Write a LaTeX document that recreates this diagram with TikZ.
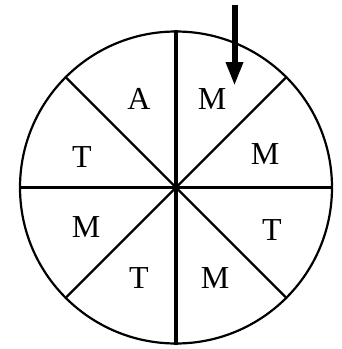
\documentclass[tikz,border=0pt]{standalone}
\usepackage{fontspec}
\setmainfont{Liberation Serif}
\usetikzlibrary{arrows.meta}
\begin{document}
\begin{tikzpicture}[x=1pt,y=-1pt,
  rim/.style={line width=2.2pt},
  axis/.style={line width=3.4pt},
  diag/.style={line width=2.3pt},
  lbl/.style={font=\fontsize{32}{32}\selectfont, inner sep=0pt},
  pointer/.style={line width=6pt, -{Triangle[length=24pt,width=16pt]}}]
\useasboundingbox (0,0) rectangle (342,349);
\coordinate (c) at (176,187.5);
\node[circle, draw, rim, minimum size=312pt, inner sep=0pt] (wheel) at (c) {};
\draw[axis] (wheel.north) -- (wheel.south);
\draw[axis] (wheel.west) -- (wheel.east);
\draw[diag] (wheel.north west) -- (wheel.south east);
\draw[diag] (wheel.north east) -- (wheel.south west);
\node[lbl] (s1) at (139,99) {A};
\node[lbl] (s2) at (212,99) {M};
\node[lbl] (s3) at (82,157) {T};
\node[lbl] (s4) at (265,154) {M};
\node[lbl] (s5) at (86,227) {M};
\node[lbl] (s6) at (272,230) {T};
\node[lbl] (s7) at (139,278) {T};
\node[lbl] (s8) at (215,278) {M};
\coordinate (ptop) at (234.5,5);
\coordinate (ptip) at (234.5,86);
\draw[pointer] (ptop) -- (ptip);
\end{tikzpicture}
\end{document}
